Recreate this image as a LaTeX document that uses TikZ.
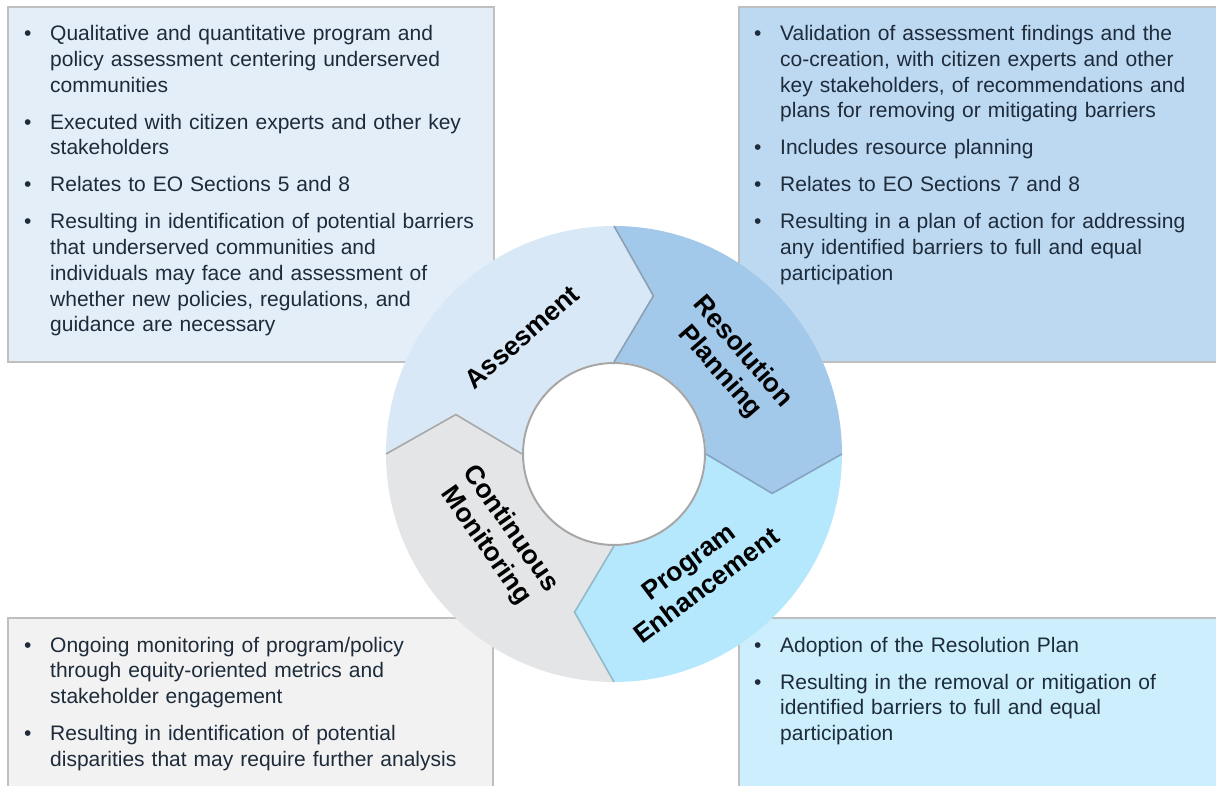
\documentclass[tikz,border=0pt]{standalone}
\usepackage{fontspec}
\setmainfont{Liberation Sans}
\usetikzlibrary{calc}

\definecolor{txt}{HTML}{1D2B3A}
\definecolor{boxgray}{HTML}{BFBFBF}
\definecolor{tlfill}{HTML}{E3EEF9}
\definecolor{trfill}{HTML}{BDD9F1}
\definecolor{blfill}{HTML}{F2F2F2}
\definecolor{brfill}{HTML}{CDEFFD}
\definecolor{segA}{HTML}{D9E8F7}
\definecolor{segR}{HTML}{A2C8EA}
\definecolor{segP}{HTML}{B5E8FC}
\definecolor{segC}{HTML}{E4E5E6}
\definecolor{edgeA}{HTML}{8CA0B4}
\definecolor{edgeR}{HTML}{86A3BF}
\definecolor{edgeP}{HTML}{93B9C9}
\definecolor{edgeC}{HTML}{A8A8A8}
\definecolor{hubgray}{HTML}{A6A6A6}

% one bullet paragraph with hanging indent
\newcommand{\bul}[1]{\par\hangindent=26pt\hangafter=1\noindent\makebox[26pt][l]{•}#1\par}

% ring geometry: outer radius, inner radius, tip radius, tip offset (deg)
\def\Ro{228}
\def\Ri{92}
\def\Rt{163}
\def\Tk{14}

% fill one chevron segment running clockwise from angle #1 to #1-90
\newcommand{\ringseg}[2]{%
  \pgfmathsetmacro\segEnd{#1-90}%
  \pgfmathsetmacro\tipEnd{#1-90-\Tk}%
  \pgfmathsetmacro\tipStart{#1-\Tk}%
  \fill[#2] ($(C)+(#1:\Ro)$) arc[start angle=#1, end angle=\segEnd, radius=\Ro]
    -- ($(C)+(\tipEnd:\Rt)$) -- ($(C)+(\segEnd:\Ri)$)
    arc[start angle=\segEnd, end angle=#1, radius=\Ri]
    -- ($(C)+(\tipStart:\Rt)$) -- cycle;
}
% outline of the pointed end of a segment at boundary angle #1
\newcommand{\ringtip}[2]{%
  \pgfmathsetmacro\tipAng{#1-\Tk}%
  \draw[chevedge, #2] ($(C)+(#1:\Ro)$) -- ($(C)+(\tipAng:\Rt)$) -- ($(C)+(#1:\Ri)$);
}

\tikzset{
  boxframe/.style={draw=boxgray, line width=1.5},
  bodytext/.style={anchor=north west, inner sep=0, text width=480,
    font=\fontsize{21}{25.7}\selectfont, text=txt},
  steplabel/.style={inner sep=0, align=center,
    font=\fontsize{26.5}{30}\selectfont\bfseries, text=black},
  chevedge/.style={line width=1.6, line join=miter},
}

\begin{document}
\begin{tikzpicture}[x=1pt,y=1pt]
\useasboundingbox (0,0) rectangle (1216,785);
\clip (0,0) rectangle (1216,785);

% description panels
\path[boxframe, fill=tlfill] (8,778) rectangle (494,423);
\path[boxframe, fill=trfill] (739,778) rectangle (1230,423);
\path[boxframe, fill=blfill] (8,167) rectangle (493,-10);
\path[boxframe, fill=brfill] (739,167) rectangle (1230,-10);

\node[bodytext] (tltext) at (24,781.3) {\setlength{\parskip}{11.3pt}%
\bul{\rule{0pt}{16pt}Qualitative and quantitative program and\newline policy assessment centering underserved\newline communities}
\bul{Executed with citizen experts and other key\newline stakeholders}
\bul{Relates to EO Sections 5 and 8}
\bul{Resulting in identification of potential barriers\newline that underserved communities and\newline individuals may face and assessment of\newline whether new policies, regulations, and\newline guidance are necessary}};

\node[bodytext] (trtext) at (754,781.3) {\setlength{\parskip}{11.3pt}%
\bul{\rule{0pt}{16pt}Validation of assessment findings and the\newline co-creation, with citizen experts and other\newline key stakeholders, of recommendations and\newline plans for removing or mitigating barriers}
\bul{Includes resource planning}
\bul{Relates to EO Sections 7 and 8}
\bul{Resulting in a plan of action for addressing\newline any identified barriers to full and equal\newline participation}};

\node[bodytext] (bltext) at (24,170) {\setlength{\parskip}{11.3pt}%
\bul{\rule{0pt}{16pt}Ongoing monitoring of program/policy\newline through equity-oriented metrics and\newline stakeholder engagement}
\bul{Resulting in identification of potential\newline disparities that may require further analysis}};

\node[bodytext] (brtext) at (754,170) {\setlength{\parskip}{11.3pt}%
\bul{\rule{0pt}{16pt}Adoption of the Resolution Plan}
\bul{Resulting in the removal or mitigation of\newline identified barriers to full and equal\newline participation}};

% cycle ring
\coordinate (C) at (614,331);
\ringseg{180}{segA}
\ringseg{90}{segR}
\ringseg{0}{segP}
\ringseg{-90}{segC}
\ringtip{90}{edgeA}
\ringtip{0}{edgeR}
\ringtip{-90}{edgeP}
\ringtip{180}{edgeC}
\node[circle, fill=white, draw=hubgray, line width=2, minimum size=182, inner sep=0] (hub) at (C) {};

% stage labels
\node[steplabel, rotate=41] (assess) at (522,448) {Assesment};
\node[steplabel, rotate=-49] (resplan) at (731,423) {Resolution\\Planning};
\node[steplabel, rotate=37] (progenh) at (697.5,211.5) {Program\\Enhancement};
\node[steplabel, rotate=-55] (contmon) at (498,247.5) {Continuous\\Monitoring};
\end{tikzpicture}
\end{document}
